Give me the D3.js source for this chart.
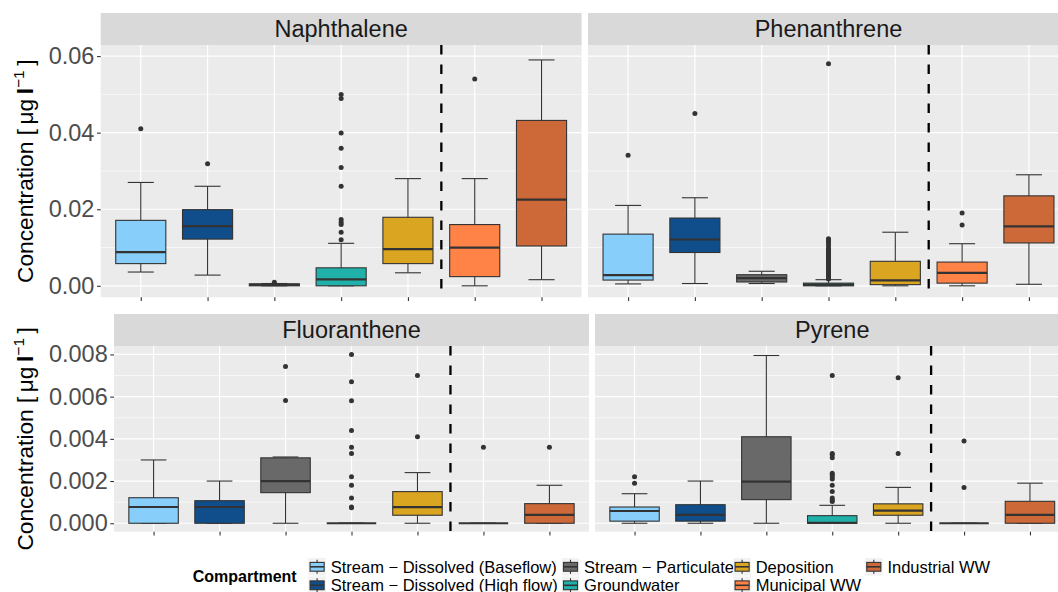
<!DOCTYPE html>
<html lang="en">
<head>
<meta charset="UTF-8">
<title>PAH concentrations by compartment</title>
<script src="https://d3js.org/d3.v7.min.js"></script>
<style>
  body { margin: 0; background: #fff; }
  svg { display: block; font-family: "Liberation Sans", Arial, sans-serif; }
</style>
</head>
<body>
<svg width="1058" height="592"></svg>
<script>
const compartments = [
  "Stream \u2212 Dissolved (Baseflow)",
  "Stream \u2212 Dissolved (High flow)",
  "Stream \u2212 Particulate",
  "Groundwater",
  "Deposition",
  "Municipal WW",
  "Industrial WW"
];
const compartmentColours = ["#87CEFA", "#104E8B", "#696969", "#20B2AA", "#DAA520", "#FF8247", "#CD6839"];

// [lower whisker, Q1, median, Q3, upper whisker] for each compartment
const naphthaleneBoxes = [
  [0.0036, 0.0058, 0.0088, 0.0171, 0.027],
  [0.0028, 0.0122, 0.0156, 0.0199, 0.026],
  [0, 0, 0.0003, 0.0005, 0.0006],
  [0, 0, 0.0017, 0.0047, 0.0111],
  [0.0034, 0.0058, 0.0096, 0.0179, 0.028],
  [0, 0.0024, 0.01, 0.016, 0.028],
  [0.0016, 0.0104, 0.0225, 0.0432, 0.059]
];
const naphthaleneOutliers = [
  [0.041], [0.0319], [0.0009],
  [0.05, 0.0489, 0.0399, 0.0359, 0.0309, 0.026, 0.0173, 0.0166, 0.016, 0.014, 0.012],
  [], [0.054], []
];

const phenanthreneBoxes = [
  [0.0005, 0.0015, 0.0028, 0.0135, 0.021],
  [0.0006, 0.0087, 0.0121, 0.0177, 0.023],
  [0.0006, 0.001, 0.002, 0.0029, 0.0038],
  [0, 0, 0.0003, 0.0007, 0.0016],
  [0, 0.0003, 0.0014, 0.0064, 0.014],
  [0, 0.0007, 0.0034, 0.0062, 0.011],
  [0.0004, 0.0112, 0.0155, 0.0235, 0.029]
];
const phenanthreneOutliers = [
  [0.0341], [0.045], [],
  [0.0123, 0.012, 0.0117, 0.0112, 0.0105, 0.0098, 0.0095, 0.0092, 0.0088, 0.0085, 0.0082, 0.0078,
   0.0075, 0.0071, 0.0067, 0.0063, 0.006, 0.0056, 0.0052, 0.0048, 0.0044, 0.004, 0.0036, 0.0032,
   0.0028, 0.0025, 0.0022, 0.002, 0.0018, 0.058],
  [], [0.019, 0.0159], []
];

const fluorantheneBoxes = [
  [0, 0, 0.00077, 0.00121, 0.003],
  [0, 0, 0.00077, 0.00107, 0.002],
  [0, 0.00145, 0.002, 0.0031, 0.00314],
  [0, 0, 0, 0, 0],
  [0, 0.00038, 0.00076, 0.0015, 0.0024],
  [0, 0, 0, 0, 0],
  [0, 0, 0.0004, 0.00093, 0.0018]
];
const fluorantheneOutliers = [
  [], [], [0.00743, 0.00582],
  [0.008, 0.0067, 0.0058, 0.0044, 0.0036, 0.0033, 0.0022, 0.0018, 0.0012, 0.00077, 0.00073],
  [0.007, 0.0041], [0.0036], [0.0036]
];

const pyreneBoxes = [
  [0, 0.0001, 0.00058, 0.00077, 0.0014],
  [0, 0.0001, 0.0004, 0.00088, 0.002],
  [0, 0.00112, 0.00197, 0.0041, 0.00795],
  [0, 0, 0.00002, 0.00036, 0.00085],
  [0, 0.00038, 0.0006, 0.00092, 0.0017],
  [0, 0, 0, 0, 0],
  [0, 0, 0.0004, 0.00104, 0.0019]
];
const pyreneOutliers = [
  [0.0022, 0.0019], [], [],
  [0.007, 0.0033, 0.00325, 0.0031, 0.00237, 0.0023, 0.0022, 0.0021, 0.0018, 0.0015, 0.0012, 0.0011, 0.00103],
  [0.0069, 0.0033], [0.0039, 0.0017], []
];

const topTicks = [0, 0.02, 0.04, 0.06];
const topMinorTicks = [0.01, 0.03, 0.05];
const bottomTicks = [0, 0.002, 0.004, 0.006, 0.008];
const bottomMinorTicks = [0.001, 0.003, 0.005, 0.007];

const svg = d3.select("svg");
svg.append("rect").attr("width", 1058).attr("height", 592).attr("fill", "#fff");

const rows = [
  {
    stripTop: 13, top: 45, bottom: 297.3, domain: [-0.003, 0.0629],
    ticks: topTicks, minor: topMinorTicks, format: d3.format(".2f"),
    panels: [
      { name: "Naphthalene", boxes: naphthaleneBoxes, outliers: naphthaleneOutliers, left: 100.7, right: 581.6 },
      { name: "Phenanthrene", boxes: phenanthreneBoxes, outliers: phenanthreneOutliers, left: 588, right: 1069 }
    ]
  },
  {
    stripTop: 314, top: 346, bottom: 531.7, domain: [-0.0004, 0.0084],
    ticks: bottomTicks, minor: bottomMinorTicks, format: d3.format(".3f"),
    panels: [
      { name: "Fluoranthene", boxes: fluorantheneBoxes, outliers: fluorantheneOutliers, left: 114, right: 589 },
      { name: "Pyrene", boxes: pyreneBoxes, outliers: pyreneOutliers, left: 595, right: 1069.5 }
    ]
  }
];

const bigFont = 23.5;

rows.forEach(row => {
  const y = d3.scaleLinear().domain(row.domain).range([row.bottom, row.top]);

  row.panels.forEach((p, pi) => {
    const x = d3.scalePoint().domain(compartments).range([p.left, p.right]).padding(0.6);
    const step = x.step();
    const g = svg.append("g");

    // panel background + grid
    g.append("rect")
      .attr("x", p.left).attr("y", row.top)
      .attr("width", p.right - p.left).attr("height", row.bottom - row.top)
      .attr("fill", "#ebebeb");
    g.selectAll("line.minor").data(row.minor).enter().append("line")
      .attr("x1", p.left).attr("x2", p.right)
      .attr("y1", d => y(d)).attr("y2", d => y(d))
      .attr("stroke", "#fff").attr("stroke-width", 0.6);
    g.selectAll("line.major").data(row.ticks).enter().append("line")
      .attr("x1", p.left).attr("x2", p.right)
      .attr("y1", d => y(d)).attr("y2", d => y(d))
      .attr("stroke", "#fff").attr("stroke-width", 1.2);
    g.selectAll("line.vgrid").data(compartments).enter().append("line")
      .attr("x1", d => x(d)).attr("x2", d => x(d))
      .attr("y1", row.top).attr("y2", row.bottom)
      .attr("stroke", "#fff").attr("stroke-width", 1.2);

    // strip
    g.append("rect")
      .attr("x", p.left).attr("y", row.stripTop)
      .attr("width", p.right - p.left).attr("height", row.top - row.stripTop)
      .attr("fill", "#d9d9d9");
    g.append("text")
      .attr("x", (p.left + p.right) / 2).attr("y", (row.stripTop + row.top) / 2)
      .attr("dy", "0.35em").attr("text-anchor", "middle")
      .attr("font-size", bigFont).attr("fill", "#1a1a1a")
      .text(p.name);

    // boxes
    const boxW = step * 0.75, capW = step * 0.39;
    const items = compartments.map((c, i) => ({ c, s: p.boxes[i], out: p.outliers[i], col: compartmentColours[i] }));
    const bx = g.selectAll("g.box").data(items).enter().append("g");
    bx.append("line")
      .attr("x1", d => x(d.c)).attr("x2", d => x(d.c))
      .attr("y1", d => y(d.s[0])).attr("y2", d => y(d.s[4]))
      .attr("stroke", "#333").attr("stroke-width", 1.1);
    bx.selectAll("line.cap").data(d => [d.s[0], d.s[4]].map(v => ({ c: d.c, v }))).enter().append("line")
      .attr("x1", d => x(d.c) - capW / 2).attr("x2", d => x(d.c) + capW / 2)
      .attr("y1", d => y(d.v)).attr("y2", d => y(d.v))
      .attr("stroke", "#333").attr("stroke-width", 1.1);
    bx.append("rect")
      .attr("x", d => x(d.c) - boxW / 2).attr("width", boxW)
      .attr("y", d => y(d.s[3])).attr("height", d => y(d.s[1]) - y(d.s[3]))
      .attr("fill", d => d.col).attr("stroke", "#333").attr("stroke-width", 1.1);
    bx.append("line")
      .attr("x1", d => x(d.c) - boxW / 2).attr("x2", d => x(d.c) + boxW / 2)
      .attr("y1", d => y(d.s[2])).attr("y2", d => y(d.s[2]))
      .attr("stroke", "#333").attr("stroke-width", 2.2);
    bx.selectAll("circle").data(d => d.out.map(v => ({ c: d.c, v }))).enter().append("circle")
      .attr("cx", d => x(d.c)).attr("cy", d => y(d.v)).attr("r", 2.5)
      .attr("fill", "#333");

    // dashed separator between deposition and wastewater
    const sepX = (x(compartments[4]) + x(compartments[5])) / 2;
    g.append("line")
      .attr("x1", sepX).attr("x2", sepX).attr("y1", row.top).attr("y2", row.bottom)
      .attr("stroke", "#000").attr("stroke-width", 2.3).attr("stroke-dasharray", "9.5,10");

    // x ticks (no labels)
    const xAxis = g.append("g").attr("transform", `translate(0,${row.bottom})`)
      .call(d3.axisBottom(x).tickSize(3.7).tickFormat(""));
    xAxis.select(".domain").remove();
    xAxis.selectAll("line").attr("stroke", "#333").attr("stroke-width", 1.1);

    if (pi === 0) {
      const yAxis = g.append("g").attr("transform", `translate(${p.left},0)`)
        .call(d3.axisLeft(y).tickValues(row.ticks).tickSize(3.7).tickPadding(2.6).tickFormat(row.format));
      yAxis.select(".domain").remove();
      yAxis.selectAll("line").attr("stroke", "#333").attr("stroke-width", 1.1);
      yAxis.selectAll("text")
        .attr("font-family", "'Liberation Sans', Arial, sans-serif")
        .attr("font-size", bigFont).attr("fill", "#4d4d4d");
    }
  });

  // y axis title
  const cy = (row.top + row.bottom) / 2;
  const t = svg.append("text")
    .attr("transform", `translate(33.3,${cy}) rotate(-90)`)
    .attr("text-anchor", "middle").attr("font-size", 22.7).attr("fill", "#000");
  t.append("tspan").text("Concentration [\u2009\u03bcg\u2009");
  t.append("tspan").attr("font-weight", "bold").text("l");
  t.append("tspan").attr("font-size", 15.5).attr("dy", "-0.6em").text("\u22121");
  t.append("tspan").attr("dy", "0.41em").text("\u2009]");
});

// legend
const legendCols = [308.3, 561.7, 733.3, 865];
const legendRows = [558, 576.5];
const keySize = 17.6;
svg.append("text")
  .attr("x", 192.7).attr("y", 576).attr("dy", "0.35em")
  .attr("font-size", 16).attr("font-weight", "bold").attr("fill", "#000")
  .text("Compartment");

const keys = svg.selectAll("g.key").data(compartments).enter().append("g")
  .attr("transform", (d, i) => `translate(${legendCols[Math.floor(i / 2)]},${legendRows[i % 2]})`);
keys.append("rect").attr("width", keySize).attr("height", keySize).attr("fill", "#f2f2f2");
keys.append("line")
  .attr("x1", keySize / 2).attr("x2", keySize / 2)
  .attr("y1", keySize * 0.1).attr("y2", keySize * 0.9)
  .attr("stroke", "#333").attr("stroke-width", 1.1);
keys.append("rect")
  .attr("x", keySize * 0.1).attr("width", keySize * 0.8)
  .attr("y", keySize * 0.25).attr("height", keySize * 0.5)
  .attr("fill", (d, i) => compartmentColours[i]).attr("stroke", "#333").attr("stroke-width", 1.1);
keys.append("line")
  .attr("x1", keySize * 0.1).attr("x2", keySize * 0.9)
  .attr("y1", keySize / 2).attr("y2", keySize / 2)
  .attr("stroke", "#333").attr("stroke-width", 1.6);
keys.append("text")
  .attr("x", 22.4).attr("y", keySize / 2).attr("dy", "0.35em")
  .attr("font-size", 16.5).attr("fill", "#000")
  .text(d => d);
</script>
</body>
</html>
